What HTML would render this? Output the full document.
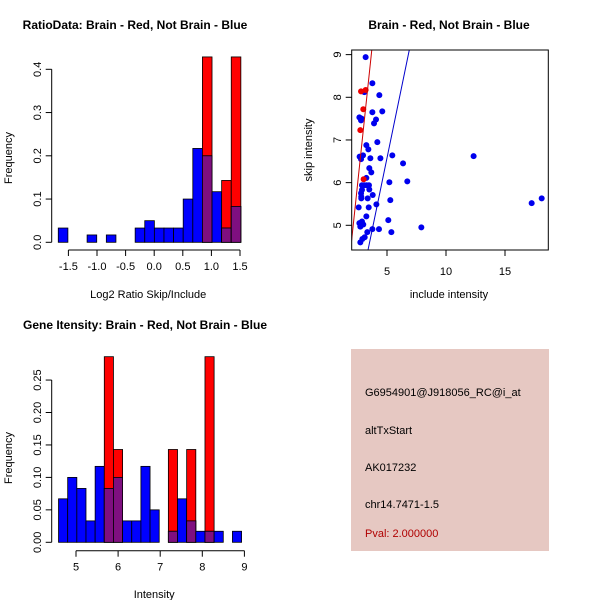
<!DOCTYPE html>
<html><head><meta charset="utf-8"><style>
body{margin:0;background:#fff}
svg{display:block;font-family:"Liberation Sans",sans-serif}
</style></head><body>
<svg id="c" width="600" height="600" viewBox="0 0 600 600">
<rect width="600" height="600" fill="#fff"/>
<text x="135" y="29" text-anchor="middle" font-size="12" font-weight="bold">RatioData: Brain - Red, Not Brain - Blue</text>
<text x="449" y="29" text-anchor="middle" font-size="12" font-weight="bold">Brain - Red, Not Brain - Blue</text>
<text x="145" y="329" text-anchor="middle" font-size="12" font-weight="bold">Gene Itensity: Brain - Red, Not Brain - Blue</text>
<g id="p1"></g>
<g id="p2"></g>
<g id="p3"></g>
<g>
<rect x="351" y="349" width="198" height="202" fill="#e6c8c2"/>
<text x="365" y="396" font-size="11">G6954901@J918056_RC@i_at</text>
<text x="365" y="434" font-size="11">altTxStart</text>
<text x="365" y="471" font-size="11">AK017232</text>
<text x="365" y="508" font-size="11">chr14.7471-1.5</text>
<text x="365" y="537" font-size="11" fill="#b00000">Pval: 2.000000</text>
</g>
</svg>
<script>
// Ratio histogram data
const ratioStart = -1.677, ratioWidth = 0.168;
const ratioBlue = [0.033,0,0,0.017,0,0.017,0,0,0.033,0.05,0.033,0.033,0.033,0.1,0.217,0.2,0.117,0.033,0.083];
const ratioRed  = [0,0,0,0,0,0,0,0,0,0,0,0,0,0,0,0.4286,0,0.143,0.4286];
const ratioXTicks = [-1.5,-1.0,-0.5,0.0,0.5,1.0,1.5];
const ratioYTicks = [0.0,0.1,0.2,0.3,0.4];
// Intensity histogram data
const intStart = 4.585, intWidth = 0.2174;
const intBlue = [0.067,0.1,0.083,0.033,0.117,0.083,0.1,0.033,0.033,0.117,0.05,0,0.017,0.067,0.033,0.017,0.017,0.017,0,0.017];
const intRed  = [0,0,0,0,0,0.286,0.143,0,0,0,0,0,0.143,0,0.143,0,0.286,0,0,0];
const intXTicks = [5,6,7,8,9];
const intYTicks = [0.00,0.05,0.10,0.15,0.20,0.25];
// Scatter data
const blueX = [3.19,3.76,4.35,3.08,3.76,4.60,2.66,2.80,2.85,4.07,3.90,4.18,3.25,3.42,3.59,4.44,5.45,2.68,2.97,2.80,6.36,12.34,3.50,3.67,3.25,6.72,5.20,2.88,3.08,3.28,3.47,3.50,2.88,2.80,2.82,2.82,3.79,3.36,5.28,4.10,3.45,2.60,3.25,5.11,2.88,2.66,2.99,2.74,4.32,3.76,5.37,3.33,7.91,3.11,2.91,2.74,17.26,18.11];
const blueY = [8.94,8.33,8.05,8.12,7.65,7.67,7.53,7.46,7.50,7.48,7.39,6.95,6.88,6.78,6.57,6.57,6.64,6.61,6.64,6.55,6.45,6.62,6.34,6.24,6.11,6.03,6.01,5.94,5.94,5.94,5.94,5.84,5.83,5.75,5.67,5.63,5.71,5.63,5.59,5.49,5.42,5.42,5.21,5.12,5.09,5.05,5.02,4.97,4.91,4.91,4.84,4.84,4.95,4.72,4.68,4.60,5.52,5.63];
const redX = [2.80,3.19,2.99,2.74,3.02];
const redY = [8.14,8.17,7.72,7.23,6.08];
const redLine = [2.005,4.656,3.842,9.453];
const blueLine = [3.39,4.42,6.89,9.11];
const scXTicks = [5,10,15];
const scYTicks = [5,6,7,8,9];

const NS="http://www.w3.org/2000/svg";
function el(parent,tag,attrs,text){const e=document.createElementNS(NS,tag);for(const k in attrs)e.setAttribute(k,attrs[k]);if(text!==undefined)e.textContent=text;parent.appendChild(e);return e;}

function hist(g,start,w,blue,red,xs,ys,xTicks,yTicks,xAxisY,xlabel,xlabY,ylabY,yfmt){
  const X=v=>xs.px0+xs.k*(v-xs.v0), Y=v=>ys.px0-ys.k*v;
  for(let i=0;i<blue.length;i++){
    const x0=X(start+i*w), x1=X(start+(i+1)*w);
    if(red[i]>0){const r=el(g,'rect',{x:x0,y:Y(red[i]),width:x1-x0,height:Y(0)-Y(red[i]),fill:'#ff0000',stroke:'#000','stroke-width':0.8});
      
      }
    if(blue[i]>0){const b=el(g,'rect',{x:x0,y:Y(blue[i]),width:x1-x0,height:Y(0)-Y(blue[i]),fill:'#0000ff',stroke:'#000','stroke-width':0.8});
      
      }
    const m=Math.min(red[i],blue[i]);
    if(m>0){const p=el(g,'rect',{x:x0,y:Y(m),width:x1-x0,height:Y(0)-Y(m),fill:'#7f0f80',stroke:'#000','stroke-width':0.8});
      
      }
  }
  el(g,'line',{x1:X(xTicks[0]),x2:X(xTicks[xTicks.length-1]),y1:xAxisY,y2:xAxisY,stroke:'#000'});
  xTicks.forEach(t=>{el(g,'line',{x1:X(t),x2:X(t),y1:xAxisY,y2:xAxisY+6,stroke:'#000'});
    const tx=el(g,'text',{x:X(t),y:xAxisY+20,'text-anchor':'middle','font-size':11},String(t.toFixed(xTicks[0]%1||xTicks.some(v=>v%1)?1:0)));
    
    });
  el(g,'line',{x1:51.7,x2:51.7,y1:Y(yTicks[0]),y2:Y(yTicks[yTicks.length-1]),stroke:'#000'});
  yTicks.forEach(t=>{el(g,'line',{x1:45.7,x2:51.7,y1:Y(t),y2:Y(t),stroke:'#000'});
    const tx=el(g,'text',{x:0,y:0,'text-anchor':'middle','font-size':11,transform:`translate(41,${Y(t)}) rotate(-90)`},t.toFixed(yfmt));
    
    });
  const xl=el(g,'text',{x:(X(xTicks[0])+X(xTicks[xTicks.length-1]))/2-6,y:xlabY,'text-anchor':'middle','font-size':11},xlabel);
  
  
  const yl=el(g,'text',{x:0,y:0,'text-anchor':'middle','font-size':11,transform:`translate(12,${ylabY}) rotate(-90)`},'Frequency');
  
  
}
hist(document.getElementById('p1'),ratioStart,ratioWidth,ratioBlue,ratioRed,{px0:154.2,k:57.2,v0:0},{px0:242.3,k:432.5},ratioXTicks,ratioYTicks,250,'Log2 Ratio Skip/Include',298,158,1);
hist(document.getElementById('p3'),intStart,intWidth,intBlue,intRed,{px0:76,k:42.1,v0:5},{px0:542.3,k:649},intXTicks,intYTicks,550.7,'Intensity',598,458,2);

// scatter
(function(){
  const g=document.getElementById('p2');
  const X=v=>387+11.8*(v-5), Y=v=>225.3-42.67*(v-5);
  const cp=el(g,'clipPath',{id:'sc'});el(cp,'rect',{x:351.7,y:50,width:196.6,height:200});
  const inner=el(g,'g',{'clip-path':'url(#sc)'});
  for(let i=0;i<blueX.length;i++){const c=el(inner,'circle',{cx:X(blueX[i]),cy:Y(blueY[i]),r:3,fill:'#0000ee'});
    
    }
  for(let i=0;i<redX.length;i++){const c=el(inner,'circle',{cx:X(redX[i]),cy:Y(redY[i]),r:3,fill:'#ee0000'});
    
    }
  function line(a,col,name){const sl=(a[3]-a[1])/(a[2]-a[0]);const x0=0,x1=25;
    const l=el(inner,'line',{x1:X(x0),y1:Y(a[1]+sl*(x0-a[0])),x2:X(x1),y2:Y(a[1]+sl*(x1-a[0])),stroke:col,'stroke-width':1});
    
    }
  line(redLine,'#cc0000','red-fit-line');line(blueLine,'#0000cc','blue-fit-line');
  el(g,'rect',{x:351.7,y:50,width:196.6,height:200,fill:'none',stroke:'#000'});
  scXTicks.forEach(t=>{el(g,'line',{x1:X(t),x2:X(t),y1:250,y2:256,stroke:'#000'});
    const tx=el(g,'text',{x:X(t),y:275,'text-anchor':'middle','font-size':11},String(t));
    
    });
  scYTicks.forEach(t=>{el(g,'line',{x1:345.7,x2:351.7,y1:Y(t),y2:Y(t),stroke:'#000'});
    const tx=el(g,'text',{x:0,y:0,'text-anchor':'middle','font-size':11,transform:`translate(341,${Y(t)}) rotate(-90)`},String(t));
    
    });
  const xl=el(g,'text',{x:449,y:298,'text-anchor':'middle','font-size':11},'include intensity');
  
  
  const yl=el(g,'text',{x:0,y:0,'text-anchor':'middle','font-size':11,transform:'translate(312,150) rotate(-90)'},'skip intensity');
  
  
})();
</script>
</body></html>
